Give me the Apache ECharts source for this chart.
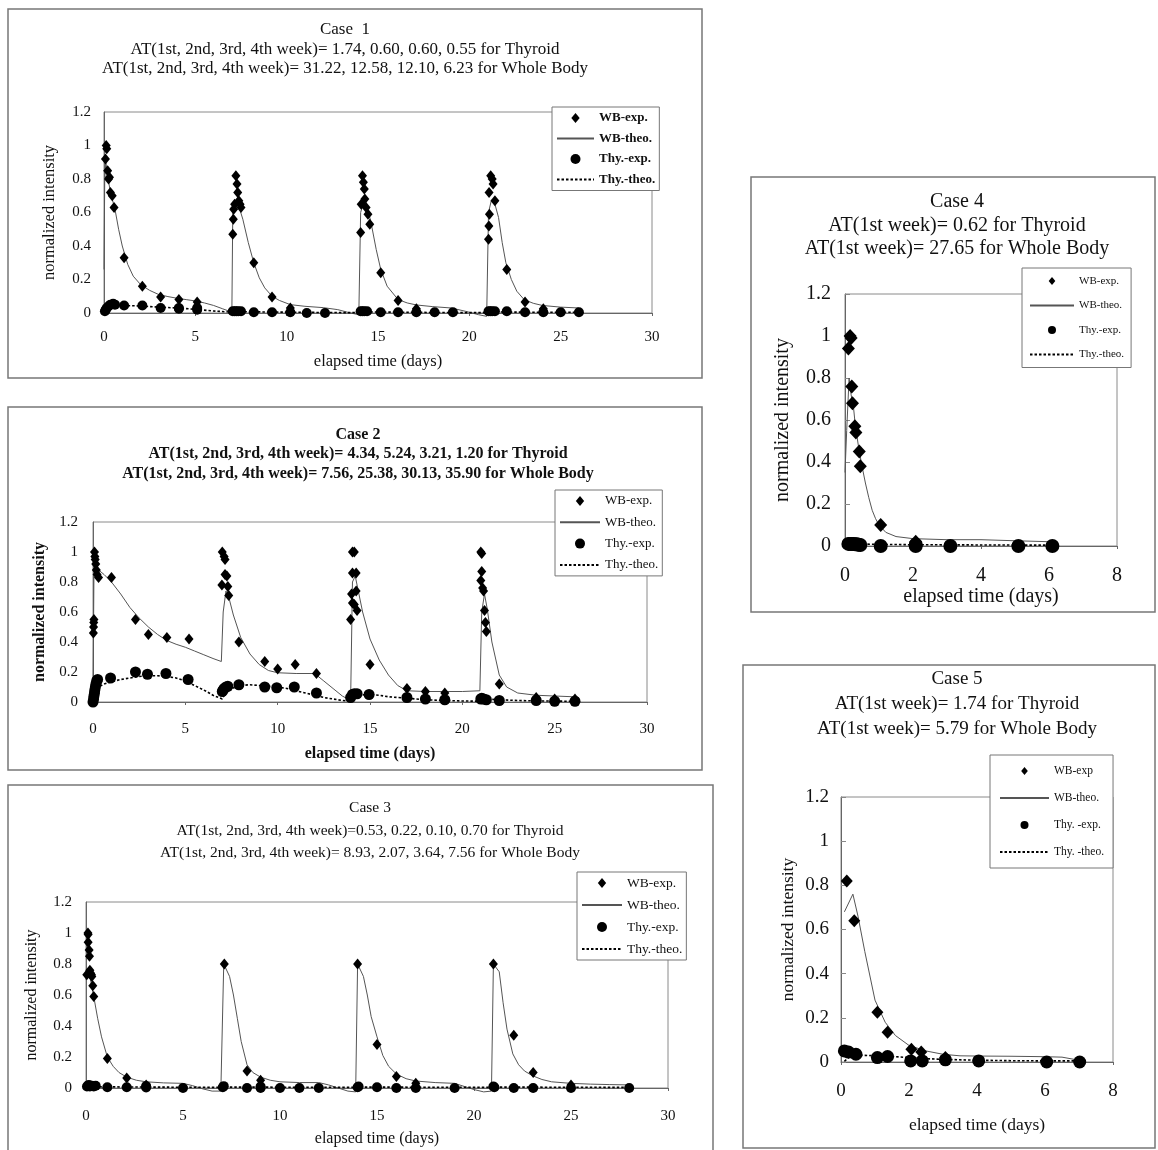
<!DOCTYPE html>
<html><head><meta charset="utf-8">
<script src="https://cdn.jsdelivr.net/npm/echarts@6/dist/echarts.min.js"></script>
<style>html,body{margin:0;padding:0;background:#fff}#c{width:1158px;height:1150px}</style>
</head><body><div id="c"></div>
<script>
// ---------------- DATA ----------------
const xTicks30 = [0, 5, 10, 15, 20, 25, 30];
const xTicks8 = [0, 2, 4, 6, 8];
const yTicks = [0, 0.2, 0.4, 0.6, 0.8, 1, 1.2];

const legendNames = ['WB-exp.', 'WB-theo.', 'Thy.-exp.', 'Thy.-theo.'];
const legendNames5 = ['WB-exp', 'WB-theo.', 'Thy. -exp.', 'Thy. -theo.'];

const titles1 = ['Case  1', 'AT(1st, 2nd, 3rd, 4th week)= 1.74, 0.60, 0.60, 0.55 for Thyroid', 'AT(1st, 2nd, 3rd, 4th week)= 31.22, 12.58, 12.10, 6.23 for Whole Body'];
const titles2 = ['Case 2', 'AT(1st, 2nd, 3rd, 4th week)= 4.34, 5.24, 3.21, 1.20 for Thyroid', 'AT(1st, 2nd, 3rd, 4th week)= 7.56, 25.38, 30.13, 35.90 for Whole Body'];
const titles3 = ['Case 3', 'AT(1st, 2nd, 3rd, 4th week)=0.53, 0.22, 0.10, 0.70 for Thyroid', 'AT(1st, 2nd, 3rd, 4th week)= 8.93, 2.07, 3.64, 7.56 for Whole Body'];
const titles4 = ['Case 4', 'AT(1st week)= 0.62 for Thyroid', 'AT(1st week)= 27.65 for Whole Body'];
const titles5 = ['Case 5', 'AT(1st week)= 1.74 for Thyroid', 'AT(1st week)= 5.79 for Whole Body'];

const xName = 'elapsed time (days)';
const yName = 'normalized intensity';

// Case 1
const c1WbExp = [[0.08,0.92],[0.12,1.0],[0.15,0.98],[0.2,0.85],[0.25,0.80],[0.3,0.81],[0.35,0.72],[0.45,0.70],[0.55,0.63],
 [1.1,0.33],[2.1,0.16],[3.1,0.095],[4.1,0.08],[5.1,0.065],
 [7.05,0.47],[7.08,0.56],[7.1,0.62],[7.15,0.65],[7.22,0.82],[7.28,0.77],[7.32,0.72],[7.38,0.67],[7.45,0.65],[7.5,0.63],
 [8.2,0.30],[9.2,0.095],[10.2,0.03],
 [14.05,0.48],[14.08,0.65],[14.15,0.82],[14.2,0.78],[14.25,0.74],[14.28,0.68],[14.35,0.63],[14.45,0.59],[14.55,0.53],
 [15.15,0.24],[16.1,0.075],[17.1,0.025],
 [21.05,0.44],[21.07,0.52],[21.1,0.59],[21.08,0.72],[21.17,0.82],[21.25,0.80],[21.3,0.77],[21.4,0.67],
 [22.05,0.26],[23.05,0.065],[24.05,0.025]];
const c1WbTheo = [[0,0.26],[0.04,0.8],[0.1,0.9],[0.2,0.82],[0.35,0.72],[0.5,0.66],[0.6,0.62],[0.8,0.5],[1.0,0.4],[1.3,0.29],[1.6,0.22],[2.0,0.17],[2.5,0.135],[3.0,0.11],[3.5,0.098],[4.0,0.088],[4.5,0.08],[5.0,0.072],[5.5,0.06],[6.0,0.045],[6.5,0.025],[7.0,0.005],
 [7.05,0.6],[7.2,0.66],[7.4,0.63],[7.6,0.56],[7.9,0.42],[8.2,0.3],[8.5,0.21],[8.8,0.15],[9.2,0.1],[9.6,0.075],[10.2,0.05],[11,0.04],[12,0.032],[12.8,0.02],[13.5,0.0],[13.95,-0.01],
 [14.05,0.6],[14.2,0.66],[14.4,0.63],[14.6,0.55],[14.9,0.38],[15.15,0.26],[15.5,0.16],[16.1,0.08],[16.6,0.06],[17.1,0.048],[18,0.038],[19,0.03],[19.8,0.01],[20.5,-0.01],[20.95,-0.02],
 [21.05,0.6],[21.2,0.67],[21.4,0.65],[21.6,0.57],[21.8,0.42],[22.0,0.3],[22.3,0.2],[22.6,0.13],[23.0,0.08],[23.5,0.058],[24.0,0.045],[25,0.035],[26,0.03]];
const c1ThyExp = [[0.05,0.01],[0.1,0.02],[0.15,0.03],[0.25,0.04],[0.35,0.05],[0.5,0.055],[0.6,0.05],
 [1.1,0.045],[2.1,0.045],[3.1,0.03],[4.1,0.025],[4.1,0.03],[5.1,0.02],[5.1,0.03],
 [7.05,0.01],[7.15,0.01],[7.25,0.01],[7.35,0.01],[7.5,0.01],[8.2,0.005],[9.2,0.005],[10.2,0.005],[11.1,0.0],[12.1,0.0],
 [14.05,0.01],[14.15,0.01],[14.25,0.01],[14.4,0.01],[15.15,0.005],[16.1,0.005],[17.1,0.005],[18.1,0.005],[19.1,0.005],
 [21.05,0.01],[21.15,0.01],[21.25,0.01],[21.4,0.01],[22.05,0.01],[23.05,0.005],[24.05,0.005],[25.0,0.005],[26.0,0.005]];
const c1ThyTheo = [[0,0.0],[0.1,0.02],[0.3,0.04],[0.6,0.045],[1,0.045],[2,0.042],[3,0.035],[4,0.03],[5,0.022],[6,0.012],[7,0.005],[7.2,0.008],[8,0.007],[10,0.005],[12,0.003],[14,0.002],[14.2,0.006],[16,0.005],[18,0.003],[21,0.002],[21.2,0.006],[23,0.005],[26,0.004]];

// Case 2
const c2WbExp = [[0.02,0.46],[0.03,0.50],[0.04,0.53],[0.05,0.55],
 [0.08,1.0],[0.1,0.97],[0.12,0.95],[0.15,0.92],[0.18,0.88],[0.22,0.85],[0.3,0.83],
 [1.0,0.83],[2.3,0.55],[3.0,0.45],[4.0,0.43],[5.2,0.42],
 [7.0,1.0],[7.1,0.97],[7.15,0.95],[7.15,0.85],[7.25,0.84],[6.98,0.78],[7.3,0.77],[7.35,0.71],
 [7.9,0.40],[9.3,0.27],[10.0,0.22],[10.95,0.25],[12.1,0.19],
 [14.05,1.0],[14.15,1.0],[14.05,0.86],[14.25,0.86],[14.25,0.74],[14.0,0.72],[14.05,0.66],[14.15,0.65],[14.3,0.61],[13.95,0.55],
 [15.0,0.25],[17.0,0.09],[18.0,0.07],[19.05,0.06],
 [21.0,1.0],[21.05,0.99],[21.05,0.87],[21.0,0.81],[21.1,0.76],[21.15,0.74],[21.2,0.61],[21.25,0.53],[21.3,0.47],
 [22.0,0.12],[24.0,0.03],[25.0,0.02],[26.1,0.02]];
const c2WbTheo = [[0,0.0],[0.05,0.85],[0.15,0.9],[0.3,0.88],[0.6,0.85],[1.0,0.8],[1.5,0.72],[2.0,0.63],[2.5,0.56],[3.0,0.5],[3.5,0.45],[4.0,0.41],[4.5,0.385],[5.0,0.365],[5.5,0.34],[6.0,0.315],[6.5,0.29],[6.95,0.27],
 [7.05,0.6],[7.2,0.74],[7.35,0.7],[7.6,0.58],[8.0,0.43],[8.5,0.32],[9.0,0.25],[9.5,0.21],[10.0,0.195],[11,0.19],[12.0,0.19],[12.5,0.14],[13.0,0.09],[13.5,0.04],[13.95,0.01],
 [14.0,0.4],[14.05,0.8],[14.2,0.84],[14.35,0.75],[14.6,0.6],[15.0,0.42],[15.5,0.28],[16.0,0.18],[16.5,0.11],[17.0,0.075],[18,0.07],[19,0.07],[20,0.07],[20.95,0.075],
 [21.05,0.6],[21.2,0.72],[21.35,0.62],[21.6,0.4],[22.0,0.18],[22.4,0.1],[23,0.06],[24,0.045],[25,0.04],[26,0.035]];
const c2ThyExp = [[0.0,0.0],[0.03,0.02],[0.05,0.04],[0.08,0.06],[0.1,0.08],[0.13,0.10],[0.16,0.12],[0.2,0.14],[0.25,0.15],
 [0.95,0.16],[2.3,0.20],[2.95,0.185],[3.95,0.19],[5.15,0.15],
 [7.0,0.07],[7.05,0.08],[7.1,0.09],[7.2,0.10],[7.3,0.105],[7.9,0.115],[9.3,0.10],[9.95,0.095],[10.9,0.10],[12.1,0.06],
 [13.95,0.03],[14.05,0.05],[14.15,0.055],[14.3,0.055],[14.95,0.05],[17.0,0.03],[18.0,0.02],[19.05,0.015],
 [21.0,0.02],[21.05,0.025],[21.15,0.02],[21.3,0.015],[22.0,0.01],[24.0,0.01],[25.0,0.005],[26.1,0.005]];
const c2ThyTheo = [[0,0.0],[0.1,0.06],[0.3,0.1],[0.6,0.12],[1.0,0.135],[1.5,0.15],[2.0,0.16],[2.5,0.17],[3.0,0.175],[3.5,0.175],[4.0,0.17],[4.5,0.16],[5.0,0.14],[5.5,0.11],[6.0,0.08],[6.5,0.045],[7.0,0.02],
 [7.2,0.07],[7.5,0.09],[8.0,0.11],[8.5,0.115],[9.0,0.11],[9.5,0.105],[10.0,0.1],[10.5,0.09],[11.0,0.075],[11.5,0.06],[12.0,0.045],[12.5,0.03],[13.0,0.02],[13.5,0.01],[14.0,0.005],
 [14.3,0.045],[15.0,0.05],[15.5,0.045],[16.0,0.035],[17.0,0.025],[18,0.015],[19,0.01],[20,0.007],[21,0.005],[21.2,0.02],[22,0.015],[23,0.01],[24,0.007],[26,0.005]];

// Case 3
const c3WbExp = [[0.04,0.73],[0.1,1.0],[0.11,0.99],[0.11,0.94],[0.16,0.89],[0.18,0.85],[0.2,0.76],[0.24,0.74],[0.28,0.73],[0.3,0.72],[0.35,0.66],[0.4,0.59],
 [1.1,0.19],[2.1,0.065],[3.1,0.02],
 [7.13,0.8],[8.3,0.11],[9.0,0.05],
 [14.0,0.8],[15.0,0.28],[16.0,0.075],[17.0,0.03],
 [21.0,0.8],[22.05,0.34],[23.05,0.10],[25.0,0.02]];
const c3WbTheo = [[0,0.7],[0.1,0.75],[0.2,0.72],[0.4,0.59],[0.6,0.45],[0.8,0.33],[1.1,0.2],[1.4,0.14],[1.7,0.1],[2.1,0.07],[2.6,0.05],[3.1,0.04],[4.0,0.033],[5.0,0.03],[5.5,0.015],[6.0,-0.005],[6.5,-0.02],[6.95,-0.02],
 [7.1,0.8],[7.4,0.72],[7.6,0.6],[7.8,0.45],[8.0,0.3],[8.3,0.15],[8.6,0.1],[9.0,0.07],[9.5,0.05],[10,0.04],[11,0.035],[12,0.035],[12.5,0.02],[13,0.0],[13.5,-0.02],[13.9,-0.025],
 [14.0,0.8],[14.3,0.72],[14.5,0.6],[14.7,0.46],[15.0,0.33],[15.3,0.21],[15.6,0.14],[16.0,0.09],[16.5,0.06],[17,0.045],[18,0.035],[19,0.03],[19.5,0.01],[20,-0.01],[20.5,-0.025],[20.9,-0.02],
 [21.0,0.8],[21.3,0.75],[21.5,0.55],[21.7,0.38],[22.0,0.22],[22.3,0.15],[22.6,0.11],[23.0,0.08],[23.5,0.055],[24,0.04],[25,0.03],[26,0.025],[27,0.022],[28,0.02]];
const c3ThyExp = [[0.05,0.01],[0.1,0.015],[0.15,0.02],[0.2,0.01],[0.3,0.015],[0.4,0.01],[0.5,0.015],
 [1.1,0.005],[2.1,0.005],[3.1,0.003],[3.1,0.012],[5.0,0.0],
 [7.05,0.005],[7.1,0.012],[8.3,0.0],[9.0,0.0],[9.0,0.01],[10.0,0.0],[11.0,0.0],[12.0,0.0],
 [14.0,0.005],[14.05,0.01],[15.0,0.005],[16.0,0.0],[17.0,0.0],[19.0,0.0],
 [21.0,0.01],[21.05,0.005],[22.05,0.0],[23.05,0.0],[25.0,0.0],[28.0,0.0]];
const c3ThyTheo = [[0,0.0],[0.2,0.008],[3,0.006],[7,0.004],[7.2,0.006],[14,0.004],[14.2,0.006],[21,0.004],[21.2,0.006],[28,0.004]];

// Case 4
const c4WbExp = [[0.1,0.94],[0.15,1.0],[0.18,0.99],[0.2,0.76],[0.22,0.68],[0.29,0.57],[0.32,0.54],[0.42,0.45],[0.45,0.38],[1.05,0.1],[2.08,0.02]];
const c4WbTheo = [[0,0.35],[0.05,0.55],[0.12,0.8],[0.18,0.72],[0.25,0.66],[0.3,0.58],[0.4,0.47],[0.5,0.38],[0.6,0.3],[0.7,0.23],[0.8,0.17],[0.9,0.13],[1.0,0.1],[1.2,0.065],[1.5,0.045],[2.0,0.035],[3.0,0.03],[4.0,0.03],[5.0,0.025],[6.1,0.02]];
const c4ThyExp = [[0.1,0.01],[0.15,0.01],[0.2,0.01],[0.25,0.01],[0.3,0.008],[0.35,0.008],[0.4,0.006],[0.45,0.005],[1.05,0.0],[2.08,0.006],[2.08,0.0],[3.1,0.0],[5.1,0.0],[6.1,0.0]];
const c4ThyTheo = [[0,0.005],[0.2,0.01],[1,0.008],[2,0.006],[4,0.005],[6.1,0.004]];

// Case 5
const c5WbExp = [[0.17,0.82],[0.39,0.64],[1.07,0.225],[1.37,0.135],[2.07,0.058],[2.36,0.045],[3.07,0.02]];
const c5WbTheo = [[0.1,0.68],[0.35,0.76],[0.5,0.66],[0.7,0.5],[1.0,0.28],[1.3,0.18],[1.6,0.12],[2.0,0.075],[2.5,0.05],[3.0,0.035],[3.5,0.028],[4.0,0.027],[5.0,0.026],[6.0,0.024],[6.5,0.022],[7.0,0.008]];
const c5ThyExp = [[0.1,0.05],[0.22,0.045],[0.44,0.035],[1.07,0.02],[1.37,0.025],[2.05,0.005],[2.39,0.005],[3.07,0.01],[4.05,0.005],[6.05,0.0],[7.02,0.0]];
const c5ThyTheo = [[0.1,0.003],[0.3,0.03],[0.7,0.03],[1.0,0.028],[1.5,0.025],[2.0,0.02],[2.5,0.015],[3.0,0.012],[4.0,0.008],[5.0,0.006],[6.0,0.005],[7.0,0.005]];

// ---------------- LAYOUT / STYLE ----------------
const SERIF = '"Liberation Serif", "Times New Roman", serif';
const DIAMOND_ICON = 'path://M5,0L10,6L5,12L0,6Z';
const panels = [
 { box:[8,9,694,369], grid:{left:104,top:112,width:548,height:201}, xTicks:xTicks30,
   titles:titles1, tX:345, tTop:20, tSize:17, tLH:19.5, tW:'normal',
   tick:15, nameSize:16.5, xNameGap:40, yNameGap:46, xLM:17, yLM:13,
   leg:{left:552,top:107,iw:37,ih:10,gap:6.5,size:13,w:'bold',pad:[4,4,4,4]}, names:legendNames,
   d:[9,11], c:10, data:[c1WbExp,c1WbTheo,c1ThyExp,c1ThyTheo] },
 { box:[8,407,694,363], grid:{left:93,top:522,width:554,height:180}, xTicks:xTicks30,
   titles:titles2, tX:358, tTop:425, tSize:16, tLH:19.5, tW:'bold',
   tick:15, nameSize:16, xNameGap:44, yNameGap:45, xLM:20, yLM:15,
   leg:{left:555,top:490,iw:40,ih:10,gap:7.3,size:13,w:'normal',pad:[4,4,4,4]}, names:legendNames,
   d:[9,11], c:11, data:[c2WbExp,c2WbTheo,c2ThyExp,c2ThyTheo] },
 { box:[8,785,705,370], grid:{left:86,top:902,width:582,height:186}, xTicks:xTicks30,
   titles:titles3, tX:370, tTop:797, tSize:15.5, tLH:22.5, tW:'normal',
   tick:15, nameSize:16, xNameGap:43, yNameGap:46, xLM:21, yLM:14,
   leg:{left:577,top:872,iw:40,ih:10,gap:8,size:13.5,w:'normal',pad:[4,4,4,4]}, names:legendNames,
   d:[9,11], c:10, data:[c3WbExp,c3WbTheo,c3ThyExp,c3ThyTheo] },
 { box:[751,177,404,435], grid:{left:845,top:294,width:272,height:252}, xTicks:xTicks8,
   titles:titles4, tX:957, tTop:190, tSize:20, tLH:23.5, tW:'normal',
   tick:20, nameSize:20, xNameGap:39, yNameGap:52, xLM:20, yLM:14,
   leg:{left:1022,top:268,iw:44,ih:8,gap:10.5,size:11,w:'normal',pad:[6,7,6,7]}, names:legendNames,
   d:[13,14], c:14, data:[c4WbExp,c4WbTheo,c4ThyExp,c4ThyTheo] },
 { box:[743,665,412,483], grid:{left:841,top:797,width:272,height:265}, xTicks:xTicks8,
   titles:titles5, tX:957, tTop:667, tSize:19, tLH:25, tW:'normal',
   tick:19, nameSize:17.5, xNameGap:54, yNameGap:44, xLM:20, yLM:12,
   leg:{left:990,top:755,iw:49,ih:8,gap:13,size:11.5,w:'normal',pad:[9,9,9,9]}, names:legendNames5,
   d:[12,13], c:13, data:[c5WbExp,c5WbTheo,c5ThyExp,c5ThyTheo] }
];

const option = { backgroundColor:'#fff', animation:false, title:[], legend:[], grid:[], xAxis:[], yAxis:[], series:[], graphic:[] };

panels.forEach((p, i) => {
  option.graphic.push({ type:'rect', silent:true, z:0,
    shape:{ x:p.box[0], y:p.box[1], width:p.box[2], height:p.box[3] },
    style:{ fill:'none', stroke:'#777', lineWidth:1.5 } });
  option.title.push({ text:p.titles.join('\n'), left:p.tX, top:p.tTop, textAlign:'center', padding:0,
    textStyle:{ fontFamily:SERIF, fontSize:p.tSize, lineHeight:p.tLH, fontWeight:p.tW, color:'#111' } });
  option.grid.push({ left:p.grid.left, top:p.grid.top, width:p.grid.width, height:p.grid.height,
    show:true, borderColor:'#8a8a8a', borderWidth:1, backgroundColor:'transparent', containLabel:false, outerBoundsMode:'none' });
  const xt = p.xTicks;
  option.xAxis.push({ type:'value', gridIndex:i, min:xt[0], max:xt[xt.length-1], interval:xt[1]-xt[0],
    name:xName, nameLocation:'middle', nameGap:p.xNameGap,
    nameTextStyle:{ fontFamily:SERIF, fontSize:p.nameSize, color:'#111', fontWeight:(i===1?'bold':'normal') },
    axisLine:{ show:true, onZero:false, lineStyle:{ color:'#666', width:1 } },
    axisTick:{ show:true, inside:false, length:3, lineStyle:{ color:'#666' } },
    splitLine:{ show:false },
    axisLabel:{ margin:p.xLM, fontFamily:SERIF, fontSize:p.tick, color:'#111' } });
  option.yAxis.push({ type:'value', gridIndex:i, min:yTicks[0], max:yTicks[yTicks.length-1], interval:yTicks[1]-yTicks[0],
    name:yName, nameLocation:'middle', nameGap:p.yNameGap,
    nameTextStyle:{ fontFamily:SERIF, fontSize:p.nameSize, color:'#111', fontWeight:(i===1?'bold':'normal') },
    axisLine:{ show:true, lineStyle:{ color:'#666', width:1 } },
    axisTick:{ show:i>=3, inside:true, length:5, lineStyle:{ color:'#888' } },
    splitLine:{ show:false },
    axisLabel:{ margin:p.yLM, fontFamily:SERIF, fontSize:p.tick, color:'#111',
      formatter: v => String(Math.round(v*10)/10) } });
  const [wbE, wbT, thE, thT] = p.data;
  const n = p.names;
  option.series.push({ name:n[1], type:'line', xAxisIndex:i, yAxisIndex:i, data:wbT, showSymbol:false, symbol:'none',
    clip:false, lineStyle:{ color:'#555', width:1 }, itemStyle:{ color:'#555' }, z:2 });
  option.series.push({ name:n[3], type:'line', xAxisIndex:i, yAxisIndex:i, data:thT, showSymbol:false, symbol:'none',
    clip:false, lineStyle:{ color:'#000', width:1.6, type:[2.5,2] }, itemStyle:{ color:'#000' }, z:2 });
  option.series.push({ name:n[0], type:'scatter', xAxisIndex:i, yAxisIndex:i, data:wbE, symbol:'diamond', symbolSize:p.d,
    itemStyle:{ color:'#000', opacity:1 }, z:3 });
  option.series.push({ name:n[2], type:'scatter', xAxisIndex:i, yAxisIndex:i, data:thE, symbol:'circle', symbolSize:p.c,
    itemStyle:{ color:'#000', opacity:1 }, z:3 });
  option.legend.push({ orient:'vertical', left:p.leg.left, top:p.leg.top, selectedMode:false, symbolKeepAspect:true,
    data:[ { name:n[0], icon:DIAMOND_ICON },
           { name:n[1], itemStyle:{ opacity:0 } },
           { name:n[2], icon:'circle' },
           { name:n[3], itemStyle:{ opacity:0 } } ],
    itemWidth:p.leg.iw, itemHeight:p.leg.ih, itemGap:p.leg.gap, padding:p.leg.pad,
    borderColor:'#777', borderWidth:1, backgroundColor:'#fff', borderRadius:0,
    textStyle:{ fontFamily:SERIF, fontSize:p.leg.size, fontWeight:p.leg.w, color:'#111', lineHeight:14 } });
});

const chart = echarts.init(document.getElementById('c'), null, { renderer:'canvas' });
chart.setOption(option);
</script></body></html>
